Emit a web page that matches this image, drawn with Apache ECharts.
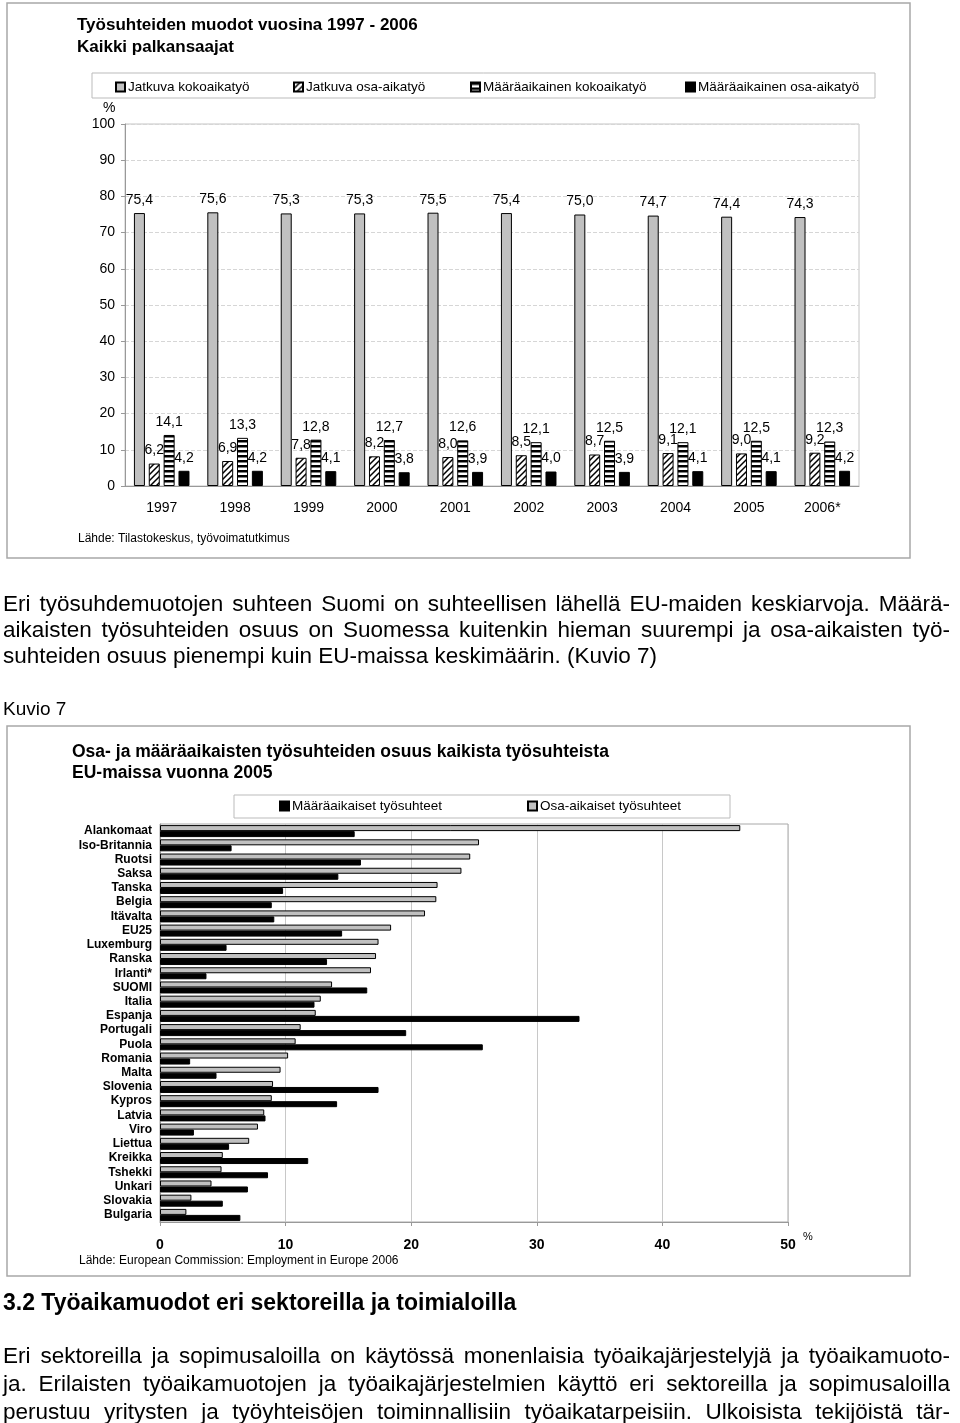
<!DOCTYPE html>
<html>
<head>
<meta charset="UTF-8">
<title>Työsuhteiden muodot</title>
<script src="https://cdn.jsdelivr.net/npm/echarts@6.0.0/dist/echarts.min.js"></script>
<style>
body { margin:0; width:960px; height:1423px; overflow:hidden; background:#fff; font-family:"Liberation Sans", Arial, sans-serif; }
#main { position:absolute; left:0; top:0; width:960px; height:1423px; }
.txt { position:absolute; left:3px; width:947px; color:#000; white-space:nowrap; }
.just { text-align:justify; text-align-last:justify; white-space:normal; }
</style>
</head>
<body>
<div id="main"></div>

<div class="txt" style="top:591px;font-size:22.5px;line-height:26px;">
  <div class="just">Eri työsuhdemuotojen suhteen Suomi on suhteellisen lähellä EU-maiden keskiarvoja. Määrä-</div>
  <div class="just">aikaisten työsuhteiden osuus on Suomessa kuitenkin hieman suurempi ja osa-aikaisten työ-</div>
  <div>suhteiden osuus pienempi kuin EU-maissa keskimäärin. (Kuvio 7)</div>
</div>
<div class="txt" style="top:697px;font-size:19px;line-height:24px;">Kuvio 7</div>
<div class="txt" style="top:1288px;font-size:23px;line-height:28px;font-weight:bold;">3.2 Työaikamuodot eri sektoreilla ja toimialoilla</div>
<div class="txt" style="top:1342px;font-size:22.5px;line-height:28px;">
  <div class="just">Eri sektoreilla ja sopimusaloilla on käytössä monenlaisia työaikajärjestelyjä ja työaikamuoto-</div>
  <div class="just">ja. Erilaisten työaikamuotojen ja työaikajärjestelmien käyttö eri sektoreilla ja sopimusaloilla</div>
  <div class="just">perustuu yritysten ja työyhteisöjen toiminnallisiin työaikatarpeisiin. Ulkoisista tekijöistä tär-</div>
</div>

<script type="text/javascript">
// kuvio 1: työsuhteiden muodot 1997-2006
var vuodet = ['1997', '1998', '1999', '2000', '2001', '2002', '2003', '2004', '2005', '2006*'];
var jatkuvaKoko = [75.4, 75.6, 75.3, 75.3, 75.5, 75.4, 75.0, 74.7, 74.4, 74.3];
var jatkuvaOsa  = [6.2, 6.9, 7.8, 8.2, 8.0, 8.5, 8.7, 9.1, 9.0, 9.2];
var maaraKoko   = [14.1, 13.3, 12.8, 12.7, 12.6, 12.1, 12.5, 12.1, 12.5, 12.3];
var maaraOsa    = [4.2, 4.2, 4.1, 3.8, 3.9, 4.0, 3.9, 4.1, 4.1, 4.2];
var ylaTicks = [0, 10, 20, 30, 40, 50, 60, 70, 80, 90, 100];

// kuvio 7: EU-maat 2005
var maat = ['Alankomaat', 'Iso-Britannia', 'Ruotsi', 'Saksa', 'Tanska', 'Belgia', 'Itävalta', 'EU25',
  'Luxemburg', 'Ranska', 'Irlanti*', 'SUOMI', 'Italia', 'Espanja', 'Portugali', 'Puola', 'Romania',
  'Malta', 'Slovenia', 'Kypros', 'Latvia', 'Viro', 'Liettua', 'Kreikka', 'Tshekki', 'Unkari',
  'Slovakia', 'Bulgaria'];
var osaAikaiset = [46.2, 25.4, 24.7, 24.0, 22.1, 22.0, 21.1, 18.4, 17.4, 17.2, 16.8, 13.7, 12.8, 12.4,
  11.2, 10.8, 10.2, 9.6, 9.0, 8.9, 8.3, 7.8, 7.1, 5.0, 4.9, 4.1, 2.5, 2.1];
var maaraaikaiset = [15.5, 5.7, 16.0, 14.2, 9.8, 8.9, 9.1, 14.5, 5.3, 13.3, 3.7, 16.5, 12.3, 33.4,
  19.6, 25.7, 2.4, 4.5, 17.4, 14.1, 8.4, 2.7, 5.5, 11.8, 8.6, 7.0, 5.0, 6.4];
var alaTicks = [0, 10, 20, 30, 40, 50];

var FONT = '"Liberation Sans", Arial, sans-serif';

// rasterikuviot
function kuvio(tyyppi) {
  var c = document.createElement('canvas');
  var g = c.getContext('2d');
  if (tyyppi == 'vino') {
    c.width = 6; c.height = 6;
    g.fillStyle = '#fff'; g.fillRect(0, 0, 6, 6);
    g.strokeStyle = '#000'; g.lineWidth = 1.5;
    g.beginPath();
    g.moveTo(0, 6); g.lineTo(6, 0);
    g.moveTo(-1, 1); g.lineTo(1, -1);
    g.moveTo(5, 7); g.lineTo(7, 5);
    g.stroke();
  } else {
    c.width = 4; c.height = 5;
    g.fillStyle = '#fff'; g.fillRect(0, 0, 4, 5);
    g.fillStyle = '#000'; g.fillRect(0, 0, 4, 2.5);
  }
  return c;
}

function pilkku(p) {
  return p.value.toFixed(1).replace('.', ',');
}

function teksti(x, y, s, font) {
  return { type: 'text', x: x, y: y, silent: true,
    style: { text: s, font: font, fill: '#000', verticalAlign: 'middle' } };
}

function laatikko(x, y, w, h, vari, lw) {
  return { type: 'rect', silent: true, shape: { x: x, y: y, width: w, height: h },
    style: { fill: 'none', stroke: vari, lineWidth: lw } };
}

function palkki(nimi, data, vari) {
  return {
    name: nimi, type: 'bar', xAxisIndex: 0, yAxisIndex: 0, data: data,
    barWidth: 11, barGap: '35%',
    itemStyle: { color: vari, borderColor: '#000', borderWidth: 1 },
    label: { show: true, position: 'top', distance: 6, formatter: pilkku,
      color: '#000', fontSize: 14, fontFamily: FONT }
  };
}

function selite(nimi, x, y) {
  return { data: [nimi], left: x, top: y, padding: 0, itemWidth: 9, itemHeight: 9, itemGap: 0,
    icon: 'rect', textStyle: { fontSize: 13.5, color: '#000', fontFamily: FONT, padding: [0, 0, 0, -2] } };
}

var myChart = echarts.init(document.getElementById('main'));

var option = {
  animation: false,
  backgroundColor: '#fff',
  textStyle: { fontFamily: FONT },
  grid: [
    { left: 125, top: 124, width: 734, height: 362, show: true, borderColor: '#c4c4c4', borderWidth: 1 },
    { left: 160, top: 824, width: 628, height: 398, show: true, borderColor: '#a8a8a8', borderWidth: 1 }
  ],
  legend: [
    selite('Jatkuva kokoaikatyö', 115, 80),
    selite('Jatkuva osa-aikatyö', 293, 80),
    selite('Määräaikainen kokoaikatyö', 470, 80),
    selite('Määräaikainen osa-aikatyö', 685, 80),
    selite('Määräaikaiset työsuhteet', 279, 799),
    selite('Osa-aikaiset työsuhteet', 527, 799)
  ],
  xAxis: [
    { gridIndex: 0, type: 'category', data: vuodet,
      axisLine: { lineStyle: { color: '#999' } },
      axisTick: { length: 5, lineStyle: { color: '#999' } },
      axisLabel: { color: '#000', fontSize: 14, margin: 15 } },
    { gridIndex: 1, type: 'value', min: alaTicks[0], max: alaTicks[alaTicks.length - 1],
      interval: alaTicks[1] - alaTicks[0],
      splitLine: { lineStyle: { color: '#c8c8c8' } },
      axisLine: { show: true, lineStyle: { color: '#999' } },
      axisTick: { show: true, length: 4, lineStyle: { color: '#999' } },
      axisLabel: { color: '#000', fontSize: 14, fontWeight: 'bold', margin: 16 } }
  ],
  yAxis: [
    { gridIndex: 0, type: 'value', min: ylaTicks[0], max: ylaTicks[ylaTicks.length - 1],
      interval: ylaTicks[1] - ylaTicks[0],
      splitLine: { lineStyle: { type: 'dashed', color: '#d6d6d6' } },
      axisLine: { show: true, lineStyle: { color: '#999' } },
      axisTick: { show: true, length: 4, lineStyle: { color: '#999' } },
      axisLabel: { color: '#000', fontSize: 14, margin: 10 } },
    { gridIndex: 1, type: 'category', data: maat, inverse: true,
      axisLine: { lineStyle: { color: '#999' } },
      axisTick: { length: 4, interval: 0, lineStyle: { color: '#999' } },
      axisLabel: { color: '#000', fontSize: 12, fontWeight: 'bold', margin: 8, interval: 0 } }
  ],
  series: [
    palkki('Jatkuva kokoaikatyö', jatkuvaKoko, '#c0c0c0'),
    palkki('Jatkuva osa-aikatyö', jatkuvaOsa, { image: kuvio('vino'), repeat: 'repeat' }),
    palkki('Määräaikainen kokoaikatyö', maaraKoko, { image: kuvio('vaaka'), repeat: 'repeat' }),
    palkki('Määräaikainen osa-aikatyö', maaraOsa, '#000'),
    { name: 'Osa-aikaiset työsuhteet', type: 'bar', xAxisIndex: 1, yAxisIndex: 1, data: osaAikaiset,
      barWidth: 6, barGap: '0%',
      itemStyle: { color: '#c0c0c0', borderColor: '#000', borderWidth: 1 } },
    { name: 'Määräaikaiset työsuhteet', type: 'bar', xAxisIndex: 1, yAxisIndex: 1, data: maaraaikaiset,
      barWidth: 6, barGap: '0%',
      itemStyle: { color: '#000', borderColor: '#000', borderWidth: 1 } }
  ],
  graphic: [
    laatikko(7, 3, 903, 555, '#a8a8a8', 1.5),
    laatikko(92, 73, 783, 25, '#bbb', 1),
    teksti(77, 25, 'Työsuhteiden muodot vuosina 1997 - 2006', 'bold 17px ' + FONT),
    teksti(77, 47, 'Kaikki palkansaajat', 'bold 17px ' + FONT),
    teksti(103, 108, '%', '14px ' + FONT),
    teksti(78, 539, 'Lähde: Tilastokeskus, työvoimatutkimus', '12px ' + FONT),

    laatikko(7, 726, 903, 550, '#a8a8a8', 1.5),
    laatikko(234, 795, 496, 23, '#bbb', 1),
    teksti(72, 752, 'Osa- ja määräaikaisten työsuhteiden osuus kaikista työsuhteista', 'bold 17.5px ' + FONT),
    teksti(72, 773, 'EU-maissa vuonna 2005', 'bold 17.5px ' + FONT),
    teksti(803, 1237, '%', '11px ' + FONT),
    teksti(79, 1261, 'Lähde: European Commission: Employment in Europe 2006', '12px ' + FONT)
  ]
};

myChart.setOption(option);
</script>
</body>
</html>
